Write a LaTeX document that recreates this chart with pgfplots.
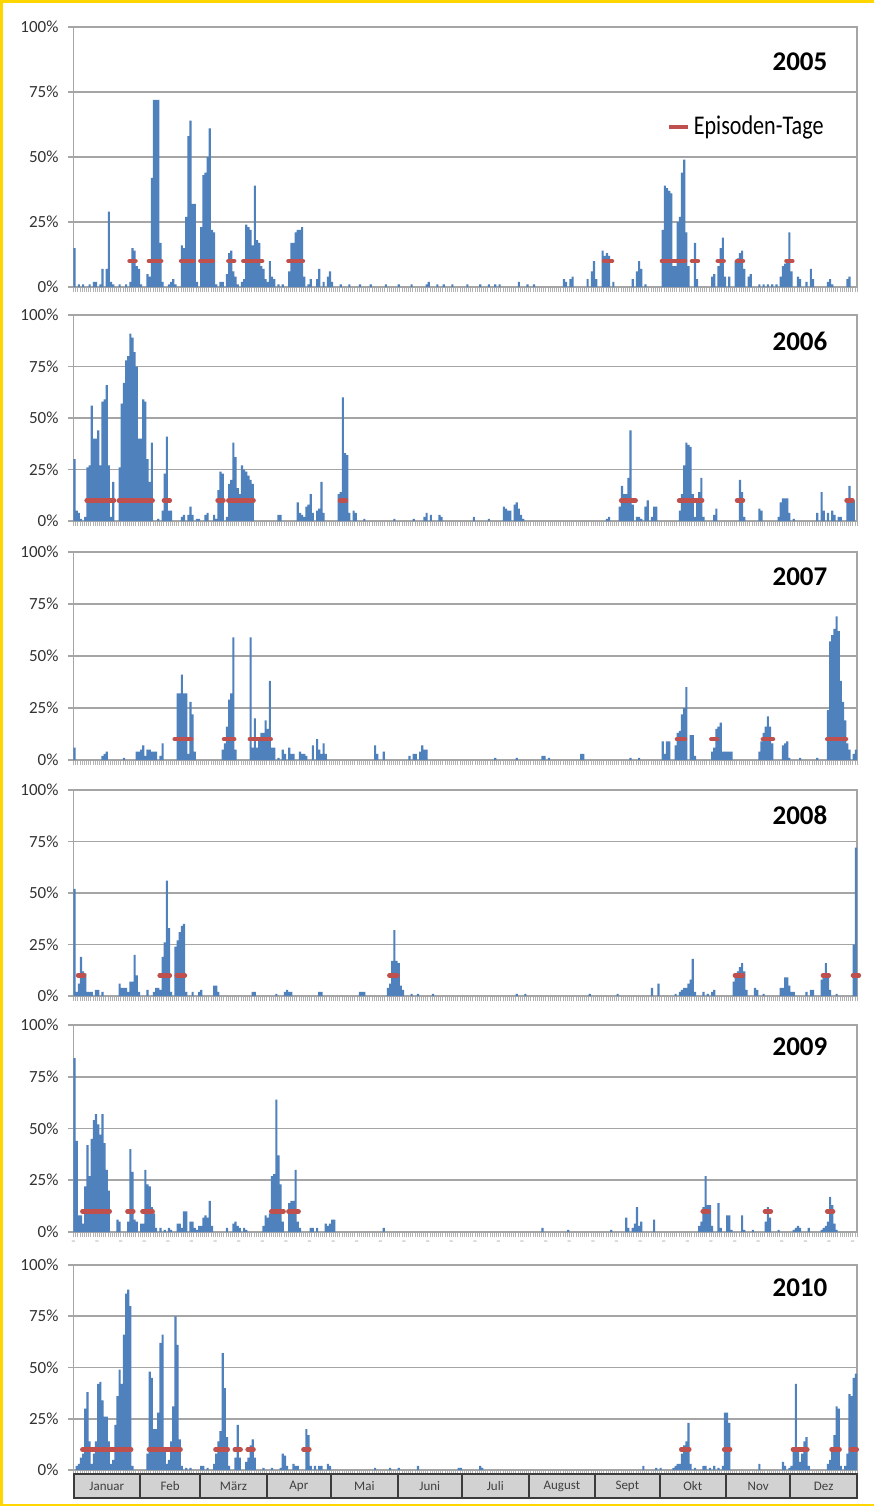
\documentclass[border=0pt]{standalone}
\usepackage{pgfplots}
\pgfplotsset{compat=1.18}
\usepackage{pgfplotstable}
\usepackage{fontspec}
\setmainfont{Carlito}
\newfontfamily\condfont[FakeStretch=0.82]{Carlito}
\definecolor{barblue}{RGB}{79,129,189}
\definecolor{epired}{RGB}{192,80,77}
\definecolor{gridgray}{RGB}{165,165,165}
\definecolor{frameyellow}{RGB}{255,214,0}
\definecolor{boxgray}{RGB}{210,210,210}
\definecolor{boxdark}{RGB}{60,60,60}

\pgfplotstableread[row sep=\\]{d v\\
1 15\\3 1\\5 1\\8 1\\10 2\\11 2\\13 1\\14 7\\16 7\\17 29\\18 2\\19 1\\22 1\\25 1\\27 2\\28 15\\29 14\\30 8\\31 7\\32 1\\35 5\\36 4\\37 42\\38 72\\39 72\\40 72\\41 17\\42 2\\45 1\\46 2\\47 3\\48 1\\51 16\\52 15\\53 27\\54 58\\55 64\\56 32\\57 32\\58 2\\60 23\\61 43\\62 44\\63 50\\64 61\\65 22\\66 21\\67 1\\69 2\\70 2\\72 5\\73 13\\74 14\\75 6\\76 4\\77 1\\79 2\\80 3\\81 24\\82 23\\83 22\\84 16\\85 39\\86 18\\87 17\\88 8\\89 7\\90 3\\91 2\\92 10\\93 4\\94 3\\96 1\\98 1\\101 6\\102 17\\103 17\\104 21\\105 22\\106 22\\107 23\\108 4\\110 1\\111 3\\114 3\\115 7\\117 2\\119 4\\120 6\\121 2\\125 1\\129 1\\134 1\\139 1\\146 1\\152 1\\158 1\\165 1\\166 2\\170 1\\173 1\\177 1\\184 1\\190 1\\194 1\\197 1\\199 1\\208 2\\212 1\\215 1\\229 3\\230 2\\232 3\\233 4\\240 3\\242 6\\243 10\\244 3\\247 14\\248 12\\249 13\\250 12\\252 2\\261 3\\263 6\\264 10\\265 7\\267 1\\275 22\\276 39\\277 38\\278 37\\279 36\\280 8\\281 8\\282 25\\283 27\\284 44\\285 49\\286 21\\287 8\\290 17\\291 3\\298 4\\299 5\\301 8\\302 15\\303 19\\304 4\\306 4\\309 10\\310 11\\311 13\\312 14\\313 7\\315 4\\316 5\\320 1\\322 1\\324 1\\326 1\\328 1\\330 4\\331 8\\332 9\\333 10\\334 21\\335 6\\338 4\\339 3\\342 2\\344 7\\345 3\\352 2\\353 3\\354 1\\361 3\\362 4\\
}\tA

\pgfplotstableread[row sep=\\]{d v\\
1 30\\2 5\\3 4\\4 1\\6 2\\7 26\\8 27\\9 56\\10 40\\11 40\\12 44\\13 27\\14 58\\15 59\\16 66\\17 27\\18 2\\19 19\\22 26\\23 57\\24 67\\25 78\\26 80\\27 91\\28 89\\29 82\\30 75\\31 40\\32 40\\33 59\\34 58\\35 30\\36 19\\37 38\\40 1\\42 5\\43 23\\44 41\\45 5\\46 5\\51 2\\52 3\\54 3\\55 7\\56 3\\58 1\\59 1\\62 3\\63 4\\66 3\\67 1\\68 15\\69 24\\70 23\\72 2\\73 18\\74 20\\75 38\\76 31\\77 16\\78 13\\79 27\\80 25\\81 24\\82 22\\83 20\\84 18\\96 3\\97 3\\105 9\\106 4\\107 3\\108 2\\109 7\\110 8\\111 13\\112 4\\114 5\\115 6\\116 19\\117 4\\124 13\\125 14\\126 60\\127 33\\128 32\\129 4\\131 5\\132 4\\136 1\\150 1\\159 1\\164 2\\165 4\\167 3\\171 3\\172 2\\187 2\\194 1\\201 7\\202 6\\203 5\\204 5\\206 8\\207 9\\208 6\\209 3\\210 1\\249 1\\250 2\\255 7\\256 17\\257 13\\258 13\\259 21\\260 44\\261 8\\263 2\\264 2\\265 1\\267 7\\268 10\\270 2\\271 7\\272 7\\283 5\\284 13\\285 27\\286 38\\287 37\\288 36\\289 13\\290 2\\291 11\\292 14\\293 21\\294 2\\299 3\\300 6\\311 20\\312 14\\313 2\\320 6\\321 5\\329 2\\330 9\\331 11\\332 11\\333 11\\334 4\\336 1\\347 4\\349 14\\350 5\\352 4\\354 5\\355 3\\357 2\\358 2\\361 9\\362 17\\363 10\\364 10\\
}\tB

\pgfplotstableread[row sep=\\]{d v\\
1 6\\14 2\\15 3\\16 4\\24 1\\30 4\\31 4\\32 5\\33 7\\34 2\\35 5\\36 5\\37 4\\38 4\\39 4\\41 2\\42 8\\49 32\\50 32\\51 41\\52 32\\53 32\\54 3\\55 28\\56 22\\57 4\\70 5\\71 8\\72 16\\73 29\\74 32\\75 59\\76 5\\83 59\\84 6\\85 20\\86 6\\87 10\\88 13\\89 13\\90 19\\91 15\\92 38\\93 6\\94 6\\96 1\\98 5\\99 3\\101 6\\102 3\\103 3\\106 4\\107 3\\108 3\\109 2\\112 7\\114 10\\115 5\\116 3\\117 8\\118 3\\141 7\\142 3\\145 4\\157 2\\159 3\\160 3\\162 4\\163 7\\164 5\\165 5\\197 1\\207 1\\219 2\\220 2\\222 1\\237 3\\238 3\\260 1\\264 1\\275 9\\276 3\\277 9\\278 9\\281 7\\282 13\\283 14\\284 22\\285 25\\286 35\\288 12\\289 12\\290 2\\298 4\\299 6\\300 15\\301 16\\302 18\\303 4\\304 4\\305 4\\306 4\\307 4\\320 4\\321 9\\322 13\\323 16\\324 21\\325 16\\326 8\\331 7\\332 8\\333 9\\334 1\\339 1\\347 1\\352 24\\353 57\\354 60\\355 63\\356 69\\357 62\\358 38\\359 28\\360 19\\361 8\\362 5\\364 3\\365 5\\
}\tC

\pgfplotstableread[row sep=\\]{d v\\
1 52\\2 2\\3 6\\4 19\\5 12\\6 11\\7 2\\8 2\\9 2\\11 3\\12 3\\14 2\\22 6\\23 4\\24 4\\25 4\\26 2\\27 7\\28 7\\29 20\\30 10\\31 2\\35 3\\38 2\\39 4\\40 4\\41 3\\42 19\\43 26\\44 56\\45 33\\46 2\\48 24\\49 27\\50 31\\51 34\\52 35\\53 2\\56 2\\59 2\\60 3\\66 5\\67 5\\68 2\\84 2\\85 2\\95 1\\99 2\\100 3\\101 2\\102 2\\115 2\\116 2\\134 2\\135 2\\136 2\\147 4\\148 6\\149 17\\150 32\\151 17\\152 16\\153 5\\154 3\\158 1\\161 1\\168 1\\207 1\\211 1\\241 1\\254 1\\270 4\\273 6\\281 1\\283 2\\284 3\\285 4\\286 4\\287 6\\288 8\\289 18\\290 2\\294 2\\296 1\\298 2\\299 3\\308 7\\309 10\\310 12\\311 14\\312 16\\313 12\\314 3\\318 4\\319 3\\322 1\\330 4\\331 4\\332 9\\333 9\\334 5\\335 2\\336 2\\342 2\\344 3\\345 3\\349 8\\350 10\\351 16\\352 11\\353 3\\356 1\\364 25\\365 72\\
}\tD

\pgfplotstableread[row sep=\\]{d v\\
1 84\\2 44\\3 8\\4 8\\5 4\\6 22\\7 42\\8 27\\9 45\\10 54\\11 57\\12 52\\13 47\\14 57\\15 43\\16 30\\17 20\\21 6\\22 5\\26 5\\27 40\\28 29\\29 6\\30 5\\32 4\\33 4\\34 30\\35 23\\36 22\\37 12\\38 9\\39 2\\41 2\\43 1\\45 2\\46 1\\49 4\\50 4\\51 2\\52 10\\53 10\\55 5\\56 5\\57 2\\58 1\\59 3\\60 3\\61 7\\62 8\\63 7\\64 15\\65 3\\72 2\\75 4\\76 5\\77 3\\78 2\\80 2\\81 1\\89 3\\90 8\\91 7\\92 9\\93 27\\94 28\\95 64\\96 37\\97 23\\98 5\\101 14\\102 15\\103 15\\104 30\\105 5\\106 2\\111 2\\112 2\\114 2\\118 4\\119 3\\120 4\\121 6\\122 6\\145 2\\219 2\\231 1\\251 1\\258 7\\259 2\\261 2\\262 4\\263 12\\264 3\\265 5\\271 6\\292 3\\293 5\\294 12\\295 27\\296 13\\297 13\\298 3\\301 14\\302 2\\305 8\\306 8\\307 1\\312 8\\313 1\\317 1\\323 5\\324 12\\325 7\\329 1\\336 1\\337 2\\338 3\\339 2\\343 2\\349 1\\350 2\\351 3\\352 5\\353 17\\354 13\\355 4\\356 1\\
}\tE

\pgfplotstableread[row sep=\\]{d v\\
2 2\\3 3\\4 6\\5 8\\6 30\\7 38\\8 14\\9 3\\10 8\\11 14\\12 42\\13 43\\14 34\\15 26\\16 26\\17 14\\18 3\\19 5\\20 22\\21 36\\22 49\\23 42\\24 66\\25 86\\26 88\\27 80\\28 2\\35 8\\36 48\\37 45\\38 20\\39 20\\40 28\\41 62\\42 66\\43 10\\44 3\\45 5\\46 14\\47 31\\48 75\\49 61\\50 15\\51 2\\53 1\\55 1\\60 2\\61 2\\63 1\\66 3\\67 8\\68 14\\69 19\\70 57\\71 40\\72 16\\73 2\\76 6\\77 22\\78 6\\81 4\\82 6\\83 12\\84 15\\85 6\\89 1\\93 1\\97 1\\98 8\\99 7\\100 2\\103 3\\104 2\\105 2\\109 20\\110 17\\111 2\\113 2\\115 2\\116 2\\119 3\\120 2\\141 1\\148 1\\152 1\\161 2\\180 1\\181 1\\190 2\\191 1\\266 2\\272 1\\274 1\\280 1\\281 2\\282 3\\283 3\\284 8\\285 12\\286 14\\287 23\\288 3\\290 1\\294 2\\295 2\\297 1\\299 2\\301 1\\303 2\\304 28\\305 28\\306 23\\320 3\\331 4\\332 2\\334 1\\335 2\\336 10\\337 42\\338 10\\339 4\\340 8\\341 14\\342 16\\343 2\\352 3\\353 5\\354 10\\355 17\\356 31\\357 30\\358 2\\360 2\\361 8\\362 37\\363 36\\364 45\\365 47\\
}\tF

\pgfplotsset{
  panel/.style={
    scale only axis, width=391.75pt, anchor=south west,
    xmin=0.5, xmax=365.5, ymin=0, ymax=100, clip=false,
    axis line style={gridgray, line width=0.9pt},
    ytick={0,25,50,75,100},
    yticklabels={0\%,25\%,50\%,75\%,100\%},
    ymajorgrids, grid style={gridgray, line width=0.9pt},
    tick align=outside, ytick pos=left, xtick pos=bottom,
    major tick length=2.5pt,
    y tick style={gridgray, line width=0.9pt},
    xtick={0.5,1.5,...,365.5}, xticklabels={},
    x tick style={gray!60, line width=0.3pt},
    yticklabel style={font=\fontsize{8.5}{9}\selectfont, text=black!80, xshift=-1.5pt},
  },
  bars/.style={ybar, bar width=1, fill=barblue, draw=none},
  epi/.style={only marks, mark=-, mark size=1.5pt, color=epired,
    mark options={epired, line width=2.2pt, line cap=round}},
}

\begin{document}
\begin{tikzpicture}
\useasboundingbox (0,0) rectangle (437pt,-753pt);
\fill[white] (0,0) rectangle (437pt,-753pt);
\fill[frameyellow] (0,0) rectangle (437pt,-1.5pt);
\fill[frameyellow] (0,0) rectangle (1.5pt,-753pt);
\fill[frameyellow] (0,-751.8pt) rectangle (437pt,-753pt);

% 2005
\begin{axis}[panel, at={(36.75pt,-143.5pt)}, height=130pt,
  legend style={at={(rel axis cs:0.963,0.615)}, anchor=east, draw=none, fill=none,
    inner sep=0pt, font=\condfont\fontsize{13.5}{14}\selectfont},
  legend image code/.code={\draw[epired, line width=2pt] (0pt,0pt) -- (9.5pt,0pt);}]
\addplot[bars, forget plot] table[x=d,y=v]{\tA};
\addplot[epi] coordinates {(28,10) (37,10) (38,10) (39,10) (40,10) (52,10) (53,10) (54,10) (55,10) (61,10) (62,10) (63,10) (64,10) (74,10) (81,10) (82,10) (83,10) (84,10) (85,10) (86,10) (87,10) (102,10) (103,10) (104,10) (105,10) (106,10) (249,10) (250,10) (276,10) (277,10) (278,10) (279,10) (280,10) (281,10) (282,10) (283,10) (284,10) (290,10) (302,10) (311,10) (334,10)};
\addlegendentry{Episoden-Tage}
\end{axis}

% 2006
\begin{axis}[panel, at={(36.75pt,-260.5pt)}, height=103pt]
\addplot[bars] table[x=d,y=v]{\tB};
\addplot[epi] coordinates {(8,10) (9,10) (10,10) (11,10) (12,10) (13,10) (14,10) (15,10) (16,10) (17,10) (18,10) (23,10) (24,10) (25,10) (26,10) (27,10) (28,10) (29,10) (30,10) (31,10) (32,10) (33,10) (34,10) (35,10) (36,10) (44,10) (69,10) (74,10) (75,10) (76,10) (77,10) (78,10) (79,10) (80,10) (81,10) (82,10) (83,10) (126,10) (257,10) (258,10) (259,10) (260,10) (261,10) (284,10) (285,10) (286,10) (287,10) (288,10) (289,10) (290,10) (291,10) (292,10) (311,10) (362,10)};
\end{axis}

% 2007
\begin{axis}[panel, at={(36.75pt,-380pt)}, height=104pt]
\addplot[bars] table[x=d,y=v]{\tC};
\addplot[epi] coordinates {(49,10) (50,10) (51,10) (52,10) (53,10) (54,10) (72,10) (73,10) (74,10) (84,10) (85,10) (86,10) (87,10) (88,10) (89,10) (90,10) (91,10) (283,10) (284,10) (299,10) (323,10) (324,10) (325,10) (353,10) (354,10) (355,10) (356,10) (357,10) (358,10) (359,10)};
\end{axis}

% 2008
\begin{axis}[panel, at={(36.75pt,-498pt)}, height=103pt]
\addplot[bars] table[x=d,y=v]{\tD};
\addplot[epi] coordinates {(4,10) (42,10) (43,10) (44,10) (50,10) (51,10) (149,10) (150,10) (310,10) (311,10) (351,10) (365,10)};
\end{axis}

% 2009
\begin{axis}[panel, at={(36.75pt,-616pt)}, height=103.5pt,
  extra x ticks={0.5,11.5,...,363.5},
  extra x tick labels={-,-,-,-,-,-,-,-,-,-,-,-,-,-,-,-,-,-,-,-,-,-,-,-,-,-,-,-,-,-,-,-,-,-},
  extra x tick style={major tick length=0pt, xticklabel style={text=gray!55, font=\scriptsize, yshift=-1pt}}]
\addplot[bars] table[x=d,y=v]{\tE};
\addplot[epi] coordinates {(6,10) (7,10) (8,10) (9,10) (10,10) (11,10) (12,10) (13,10) (14,10) (15,10) (16,10) (27,10) (34,10) (35,10) (36,10) (94,10) (95,10) (96,10) (97,10) (102,10) (103,10) (104,10) (295,10) (324,10) (353,10)};
\end{axis}

% 2010
\begin{axis}[panel, at={(36.75pt,-735pt)}, height=102.5pt]
\addplot[bars] table[x=d,y=v]{\tF};
\addplot[epi] coordinates {(6,10) (7,10) (8,10) (9,10) (10,10) (11,10) (12,10) (13,10) (14,10) (15,10) (16,10) (17,10) (18,10) (19,10) (20,10) (21,10) (22,10) (23,10) (24,10) (25,10) (26,10) (37,10) (38,10) (39,10) (40,10) (41,10) (42,10) (43,10) (44,10) (45,10) (46,10) (47,10) (48,10) (49,10) (68,10) (69,10) (70,10) (71,10) (77,10) (83,10) (109,10) (285,10) (286,10) (305,10) (337,10) (338,10) (339,10) (340,10) (341,10) (355,10) (356,10) (364,10)};
\end{axis}

% year labels
\foreach \yy/\yr in {-31/2005,-170.5/2006,-288.5/2007,-407.5/2008,-523.5/2009,-644/2010}{
  \node[anchor=east, inner sep=0pt, font=\bfseries\fontsize{13.5}{14}\selectfont] at (413.85pt,\yy pt) {\yr};
}

% month boxes
\foreach \a/\b/\m in {0/31/Januar,31/59/Feb,59/90/März,90/120/Apr,120/151/Mai,151/181/Juni,181/212/Juli,212/243/August,243/273/Sept,273/304/Okt,304/334/Nov,334/365/Dez}{
  \pgfmathsetmacro\xa{36.75+1.07329*\a}
  \pgfmathsetmacro\xb{36.75+1.07329*\b}
  \pgfmathsetmacro\xm{(\xa+\xb)/2}
  \draw[fill=boxgray, draw=boxdark, line width=1pt] (\xa pt,-737pt) rectangle (\xb pt,-749pt);
  \node[font=\fontsize{6.5}{7}\selectfont, text=black!75, inner sep=0pt] at (\xm pt,-743pt) {\m};
}
\end{tikzpicture}
\end{document}
